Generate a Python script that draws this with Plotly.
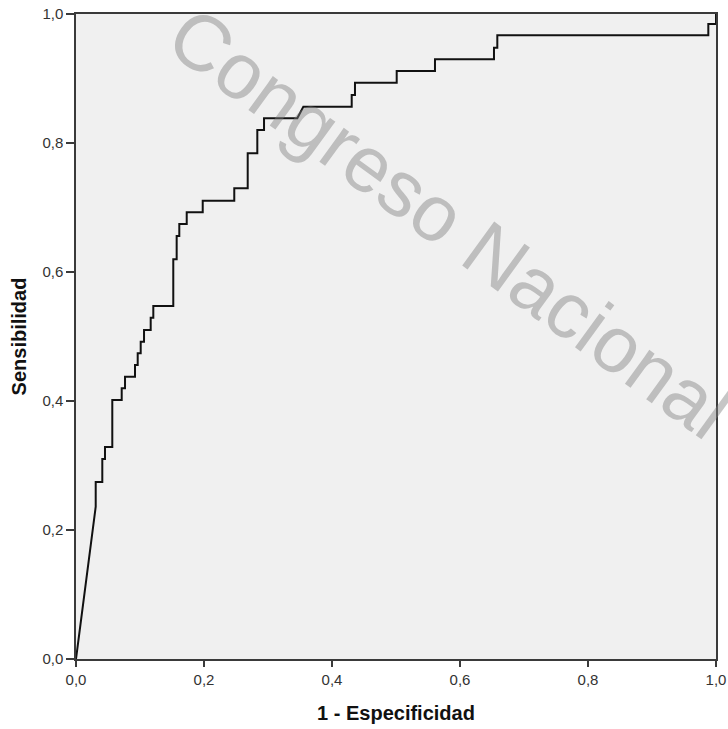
import plotly.graph_objects as go

# ROC curve points (1 - specificity, sensitivity)
fpr = [0.0, 0.0308, 0.0308, 0.0411, 0.0411, 0.0453, 0.0453, 0.0567, 0.0567,
       0.0714, 0.0714, 0.0766, 0.0766, 0.0922, 0.0922, 0.0964, 0.0964, 0.1011,
       0.1011, 0.1063, 0.1063, 0.1167, 0.1167, 0.1208, 0.1208, 0.1520, 0.1520,
       0.1573, 0.1573, 0.1614, 0.1614, 0.1730, 0.1730, 0.1980, 0.1980, 0.2473,
       0.2473, 0.2683, 0.2683, 0.2833, 0.2833, 0.2938, 0.2938, 0.3458, 0.3552,
       0.4308, 0.4308, 0.4359, 0.4359, 0.5011, 0.5011, 0.5609, 0.5609, 0.6531,
       0.6531, 0.6583, 0.6583, 0.9880, 0.9880, 1.0, 1.0]
tpr = [0.0, 0.2361, 0.2744, 0.2744, 0.3101, 0.3101, 0.3287, 0.3287, 0.4016,
       0.4016, 0.4197, 0.4197, 0.4377, 0.4377, 0.4558, 0.4558, 0.4740, 0.4740,
       0.4919, 0.4919, 0.5101, 0.5101, 0.5291, 0.5291, 0.5473, 0.5473, 0.6197,
       0.6197, 0.6558, 0.6558, 0.6744, 0.6744, 0.6926, 0.6926, 0.7105, 0.7105,
       0.7298, 0.7298, 0.7840, 0.7840, 0.8202, 0.8202, 0.8383, 0.8383, 0.8563,
       0.8563, 0.8744, 0.8744, 0.8935, 0.8935, 0.9116, 0.9116, 0.9298, 0.9298,
       0.9478, 0.9478, 0.9670, 0.9670, 0.9845, 0.9845, 1.0]

tick_vals = [0.0, 0.2, 0.4, 0.6, 0.8, 1.0]
x_title = "1 - Especificidad"
y_title = "Sensibilidad"
watermark = "Congreso Nacional"

FONT = "Liberation Sans, Arial, sans-serif"
AXIS_COLOR = "#3a3a3a"

fig = go.Figure()
fig.add_trace(go.Scatter(
    x=fpr, y=tpr, mode="lines",
    line=dict(color="#111111", width=2),
    hoverinfo="x+y", showlegend=False,
))

axis_common = dict(
    range=[0, 1],
    tickvals=tick_vals,
    tickformat=".1f",
    ticks="outside",
    tickwidth=1.5,
    tickcolor=AXIS_COLOR,
    showline=True,
    linecolor=AXIS_COLOR,
    linewidth=1.5,
    mirror=True,
    showgrid=False,
    zeroline=False,
    automargin=False,
    ticklabeloverflow="allow",
    tickfont=dict(family=FONT, size=15, color="#333333"),
)

fig.update_xaxes(**axis_common, ticklen=6,
                 title=dict(text=f"<b>{x_title}</b>", standoff=19,
                            font=dict(family=FONT, size=20, color="#111111")))
fig.update_yaxes(**axis_common, ticklen=8,
                 title=dict(text=f"<b>{y_title}</b>", standoff=10,
                            font=dict(family=FONT, size=20, color="#111111")))

fig.add_annotation(
    text=watermark, xref="paper", yref="paper", x=0.584, y=0.676,
    xanchor="center", yanchor="middle",
    showarrow=False, textangle=36,
    font=dict(family=FONT, size=79, color="rgba(128,128,128,0.45)"),
)

fig.update_layout(
    width=728, height=729,
    margin=dict(l=76, r=12, t=14, b=70, autoexpand=False),
    paper_bgcolor="white",
    plot_bgcolor="#F0F0F0",
    separators=",.",
    font=dict(family=FONT),
)

fig.write_html(
    "out.html",
    config={"displayModeBar": False},
    post_script="document.body.style.margin='0';"
                "document.body.style.overflow='hidden';",
)
